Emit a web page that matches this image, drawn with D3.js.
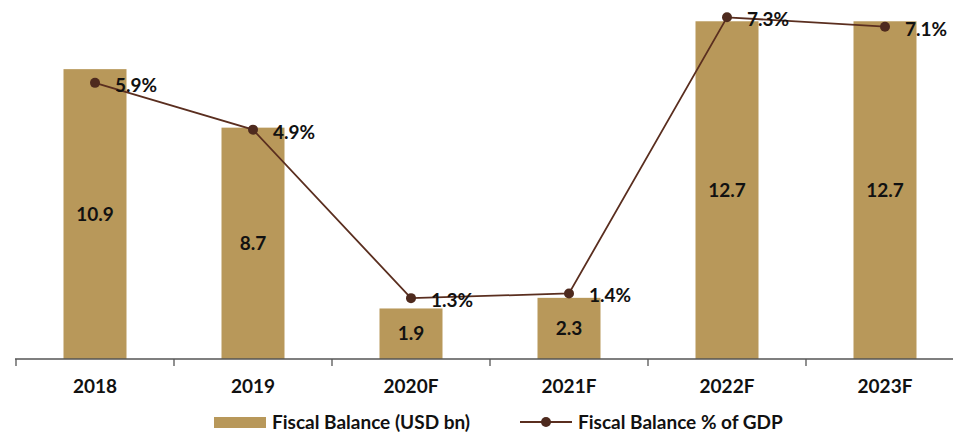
<!DOCTYPE html>
<html>
<head>
<meta charset="utf-8">
<script src="https://cdn.jsdelivr.net/npm/d3@7"></script>
<style>
  body { margin: 0; background: #fff; }
  text { font-family: Lato, "Liberation Sans", sans-serif; font-weight: bold; fill: #111; }
</style>
</head>
<body>
<div id="chart"></div>
<script>
var years = ["2018", "2019", "2020F", "2021F", "2022F", "2023F"];
var balanceUsd = [10.9, 8.7, 1.9, 2.3, 12.7, 12.7];
var balancePct = [5.9, 4.9, 1.3, 1.4, 7.3, 7.1];

var width = 953,
    height = 432;

var barColor = "#B8985A",
    lineColor = "#5A2E1F";

var fs = "19px";

var svg = d3.select("#chart")
    .append("svg")
    .attr("width", width)
    .attr("height", height);

var x = d3.scaleBand().domain(years).range([16, 964]).paddingInner(0).paddingOuter(0);
var y = d3.scaleLinear().domain([0, 13.5]).range([359, 0]);
var y2 = d3.scaleLinear().domain([0, 7.67]).range([359, 0]);

var barW = 63;

// bars
svg.selectAll(".bar")
    .data(years)
    .enter().append("rect")
    .attr("class", "bar")
    .attr("x", function(d) { return x(d) + x.bandwidth()/2 - barW/2 })
    .attr("y", function(d, i) { return y(balanceUsd[i]) })
    .attr("width", barW)
    .attr("height", function(d, i) { return y(0) - y(balanceUsd[i]) })
    .attr("fill", barColor);

svg.selectAll(".bar-label")
    .data(years)
    .enter().append("text")
    .attr("class", "bar-label")
    .attr("x", function(d) { return x(d) + x.bandwidth()/2 })
    .attr("y", function(d, i) { return (y(balanceUsd[i]) + y(0)) / 2 })
    .attr("dy", "0.35em")
    .attr("text-anchor", "middle")
    .style("font-size", fs)
    .text(function(d, i) { return d3.format(".1f")(balanceUsd[i]) });

// x axis
var axis = svg.append("g")
    .attr("transform", "translate(0,359)")
    .call(d3.axisBottom(x).tickSize(0).tickFormat(""));
axis.select(".domain").attr("stroke", "#555").attr("stroke-width", 1.3).attr("d", "M15,0H953");

svg.selectAll(".tick-mark")
    .data(years)
    .enter().append("line")
    .attr("class", "tick-mark")
    .attr("x1", function(d) { return x(d) })
    .attr("x2", function(d) { return x(d) })
    .attr("y1", 359)
    .attr("y2", 366)
    .attr("stroke", "#555")
    .attr("stroke-width", 1.3);

svg.selectAll(".cat-label")
    .data(years)
    .enter().append("text")
    .attr("class", "cat-label")
    .attr("x", function(d) { return x(d) + x.bandwidth()/2 })
    .attr("y", 393)
    .attr("text-anchor", "middle")
    .style("font-size", fs)
    .text(function(d) { return d });

// line
var line = d3.line()
    .x(function(d, i) { return x(years[i]) + x.bandwidth()/2 })
    .y(function(d) { return y2(d) });

svg.append("path")
    .datum(balancePct)
    .attr("d", line)
    .attr("fill", "none")
    .attr("stroke", lineColor)
    .attr("stroke-width", 1.8);

svg.selectAll(".dot")
    .data(balancePct)
    .enter().append("circle")
    .attr("class", "dot")
    .attr("cx", function(d, i) { return x(years[i]) + x.bandwidth()/2 })
    .attr("cy", function(d) { return y2(d) })
    .attr("r", 5)
    .attr("fill", "#4E2A1E");

svg.selectAll(".pct-label")
    .data(balancePct)
    .enter().append("text")
    .attr("class", "pct-label")
    .attr("x", function(d, i) { return x(years[i]) + x.bandwidth()/2 + 20 })
    .attr("y", function(d) { return y2(d) + 9 })
    .style("font-size", fs)
    .text(function(d) { return d3.format(".1f")(d) + "%" });

// legend
var legend = svg.append("g");
legend.append("rect")
    .attr("x", 214).attr("y", 417)
    .attr("width", 52).attr("height", 11)
    .attr("fill", barColor);
legend.append("text")
    .attr("x", 272).attr("y", 429)
    .style("font-size", fs)
    .text("Fiscal Balance (USD bn)");
legend.append("line")
    .attr("x1", 520).attr("x2", 572)
    .attr("y1", 422).attr("y2", 422)
    .attr("stroke", lineColor).attr("stroke-width", 1.8);
legend.append("circle")
    .attr("cx", 546).attr("cy", 422).attr("r", 5)
    .attr("fill", "#4E2A1E");
legend.append("text")
    .attr("x", 578).attr("y", 429)
    .style("font-size", fs)
    .text("Fiscal Balance % of GDP");
</script>
</body>
</html>
